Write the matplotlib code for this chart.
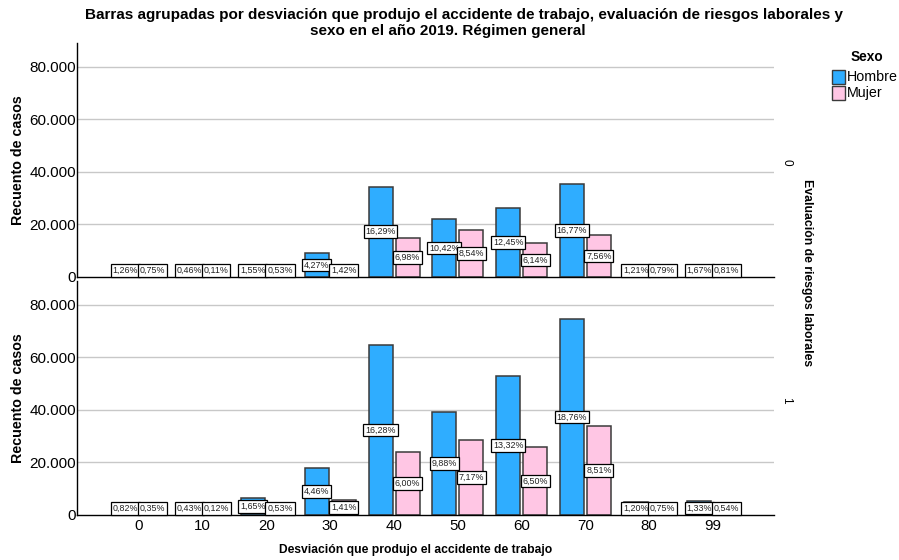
import matplotlib
matplotlib.use("Agg")
import matplotlib.pyplot as plt
from matplotlib.patches import Rectangle

plt.rcParams['font.family'] = ['Liberation Sans', 'DejaVu Sans']

categories = ["0", "10", "20", "30", "40", "50", "60", "70", "80", "99"]
sexes = ["Hombre", "Mujer"]

# Evaluación de riesgos laborales = 0
hombre_0 = [2660, 970, 3270, 9020, 34400, 22000, 26300, 35420, 2560, 3530]
mujer_0 = [1580, 230, 1120, 3000, 14740, 18040, 12970, 15970, 1670, 1710]
hombre_0_pct = ["1,26%", "0,46%", "1,55%", "4,27%", "16,29%", "10,42%", "12,45%", "16,77%", "1,21%", "1,67%"]
mujer_0_pct = ["0,75%", "0,11%", "0,53%", "1,42%", "6,98%", "8,54%", "6,14%", "7,56%", "0,79%", "0,81%"]

# Evaluación de riesgos laborales = 1
hombre_1 = [3260, 1710, 6570, 17750, 64790, 39320, 53010, 74670, 4780, 5290]
mujer_1 = [1390, 480, 2110, 5610, 23880, 28540, 25870, 33870, 2990, 2150]
hombre_1_pct = ["0,82%", "0,43%", "1,65%", "4,46%", "16,28%", "9,88%", "13,32%", "18,76%", "1,20%", "1,33%"]
mujer_1_pct = ["0,35%", "0,12%", "0,53%", "1,41%", "6,00%", "7,17%", "6,50%", "8,51%", "0,75%", "0,54%"]

yticks = [0, 20000, 40000, 60000, 80000]
ytick_labels = ["0", "20.000", "40.000", "60.000", "80.000"]
panel_labels = ["0", "1"]
title_lines = [
    "Barras agrupadas por desviación que produjo el accidente de trabajo, evaluación de riesgos laborales y",
    "sexo en el año 2019. Régimen general",
]

blue = '#2FADFF'
pink = '#FFC6E4'
edge = '#3a3a3a'

W, H = 899, 560
fig = plt.figure(figsize=(W / 100, H / 100), dpi=100)

def fx(px):
    return px / W

def fy(py):
    return 1 - py / H

left, right = 77, 774
panels = [(43, 277), (281, 515)]
YMAX = 89000
bw = 0.376
off = 0.212

data = [
    (hombre_0, mujer_0, hombre_0_pct, mujer_0_pct),
    (hombre_1, mujer_1, hombre_1_pct, mujer_1_pct),
]

axes = []
for i, ((top, bot), (hv, mv, hp, mp)) in enumerate(zip(panels, data)):
    ax = fig.add_axes([fx(left), fy(bot), fx(right) - fx(left), fy(top) - fy(bot)])
    axes.append(ax)
    ax.set_xlim(-0.97, 9.956)
    ax.set_ylim(0, YMAX)
    for g in yticks[1:]:
        ax.axhline(g, color='#c8c8c8', lw=1.0, zorder=0)
    x = list(range(len(categories)))
    ax.bar([xi - off for xi in x], hv, width=bw, color=blue, edgecolor=edge, linewidth=1.1, zorder=2)
    ax.bar([xi + off for xi in x], mv, width=bw, color=pink, edgecolor=edge, linewidth=1.1, zorder=2)
    min_center = YMAX * 6.7 / (bot - top)
    for xi, v, lab in zip(x, hv, hp):
        ax.text(xi - off, max(v / 2, min_center), lab, ha='center', va='center', fontsize=6.4,
                color='#222222', zorder=4,
                bbox=dict(boxstyle='square,pad=0.2', fc='white', ec='black', lw=0.9))
    for xi, v, lab in zip(x, mv, mp):
        ax.text(xi + off, max(v / 2, min_center), lab, ha='center', va='center', fontsize=6.4,
                color='#222222', zorder=4,
                bbox=dict(boxstyle='square,pad=0.2', fc='white', ec='black', lw=0.9))
    ax.set_yticks(yticks)
    ax.set_yticklabels(ytick_labels, fontsize=11)
    ax.tick_params(axis='y', length=0, pad=0.5)
    ax.set_xticks(x)
    if i == 1:
        ax.set_xticklabels(categories, fontsize=10.8)
    else:
        ax.set_xticklabels([])
    ax.tick_params(axis='x', length=0, pad=3)
    for s in ['top', 'right']:
        ax.spines[s].set_visible(False)
    ax.spines['left'].set_color('black')
    ax.spines['bottom'].set_color('black')
    ax.spines['left'].set_linewidth(1.0)
    ax.spines['bottom'].set_linewidth(1.0)
    fig.text(fx(18), fy((top + bot) / 2), "Recuento de casos", rotation=90, ha='center', va='center',
             fontsize=10.3, fontweight='bold')
    fig.text(fx(786), fy((top + bot) / 2 + 2), panel_labels[i], rotation=270, ha='center', va='center',
             fontsize=8.5)

fig.text(fx(807), fy(273), "Evaluación de riesgos laborales", rotation=270, ha='center', va='center',
         fontsize=8.8, fontweight='bold')

fig.text(fx(416), fy(550), "Desviación que produjo el accidente de trabajo", ha='center', va='center',
         fontsize=8.7, fontweight='bold')

fig.text(fx(464), fy(15), title_lines[0], ha='center', va='center', fontsize=11, fontweight='bold')
fig.text(fx(448), fy(30.5), title_lines[1], ha='center', va='center', fontsize=11, fontweight='bold')

# legend
fig.text(fx(867), fy(57), "Sexo", ha='center', va='center', fontsize=9.8, fontweight='bold')
for j, (lab, col) in enumerate(zip(sexes, [blue, pink])):
    yc = 77 + j * 16
    fig.patches.append(Rectangle((fx(832), fy(yc + 6.5)), fx(13), 13 / H, transform=fig.transFigure,
                                 facecolor=col, edgecolor=edge, lw=1.0))
    fig.text(fx(847), fy(yc), lab, ha='left', va='center', fontsize=10.3)

fig.savefig("out.png", dpi=100)
